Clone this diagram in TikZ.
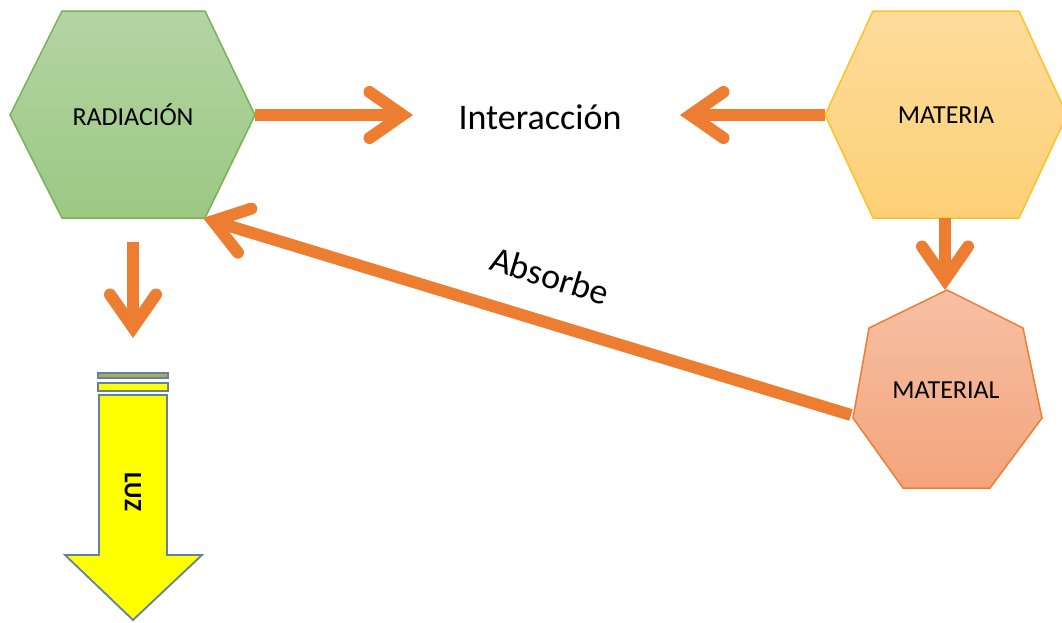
\documentclass[tikz,border=0pt]{standalone}
\usepackage{fontspec}
\setmainfont{Carlito}
\usetikzlibrary{arrows.meta}

\definecolor{arrowor}{RGB}{237,125,49}
\definecolor{radtop}{RGB}{180,212,164}
\definecolor{radbot}{RGB}{156,200,131}
\definecolor{radline}{RGB}{118,178,86}
\definecolor{mattop}{RGB}{253,220,155}
\definecolor{matbot}{RGB}{253,208,118}
\definecolor{matline}{RGB}{252,194,40}
\definecolor{mtltop}{RGB}{246,192,164}
\definecolor{mtlbot}{RGB}{244,164,124}
\definecolor{mtlline}{RGB}{237,125,49}
\definecolor{luzline}{RGB}{98,130,160}
\definecolor{luzfill}{RGB}{255,255,0}
\definecolor{luzband}{RGB}{165,175,85}

\tikzset{
  link/.style={draw=arrowor, line width=12pt, line cap=butt,
    -{Straight Barb[length=33pt, width=46pt, line cap=round, line join=miter]}},
  boxlabel/.style={font=\fontsize{26}{30}\selectfont, inner sep=0pt},
  biglabel/.style={font=\fontsize{36}{42}\selectfont, inner sep=0pt},
  shapeline/.style={line width=1.5pt, line join=miter},
}

\begin{document}
\begin{tikzpicture}[x=1pt, y=-1pt]
\clip (0,0) rectangle (1062,622);

% RADIACION hexagon
\path[shapeline, top color=radtop, bottom color=radbot, draw=radline]
  (62,11) -- (205,11) -- (255,115) -- (205,218) -- (62,218) -- (10,115) -- cycle;
\node[boxlabel] (rad) at (133,115) {RADIACIÓN};
\coordinate (radE) at (255,115);
\coordinate (radSE) at (203,218);
\coordinate (radS) at (133,242);

% MATERIA hexagon
\path[shapeline, top color=mattop, bottom color=matbot, draw=matline]
  (873,11) -- (1019,11) -- (1067,115) -- (1019,218) -- (873,218) -- (825,115) -- cycle;
\node[boxlabel] (mat) at (946,115) {MATERIA};
\coordinate (matW) at (825,115);
\coordinate (matS) at (945,218);

% MATERIAL heptagon
\path[shapeline, top color=mtltop, bottom color=mtlbot, draw=mtlline]
  (947,290) -- (1023,328) -- (1042,418) -- (990,488) -- (903,488) -- (853,418) -- (869,328) -- cycle;
\node[boxlabel] (mtl) at (946,390) {MATERIAL};
\coordinate (mtlN) at (945,290);
\coordinate (mtlW) at (851,415);

% Interaction label and arrow targets
\node[biglabel] (inter) at (540,117) {Interacción};
\coordinate (interW) at (413,115);
\coordinate (interE) at (680,115);

% LUZ block arrow
\path[draw=luzline, line width=1.5pt, fill=luzband] (98,373) rectangle (168,378);
\path[draw=luzline, line width=1.5pt, fill=luzfill] (98,383) rectangle (168,391);
\path[draw=luzline, line width=1.8pt, fill=luzfill, line join=miter]
  (99,395) -- (167,395) -- (167,555) -- (202,555) -- (133,620) -- (65,555) -- (99,555) -- cycle;
\node[font=\fontsize{25}{30}\selectfont\bfseries, rotate=-90, inner sep=0pt] (luz) at (133,492) {LUZ};
\coordinate (luzN) at (133,338);

% connectors
\draw[link] (radE) -- (interW);
\draw[link] (matW) -- (interE);
\draw[link] (matS) -- (mtlN);
\draw[link] (radS) -- (luzN);
\draw[link] (mtlW) -- node[biglabel, sloped, above=27pt, pos=0.485] (abs) {Absorbe} (radSE);

\end{tikzpicture}
\end{document}
